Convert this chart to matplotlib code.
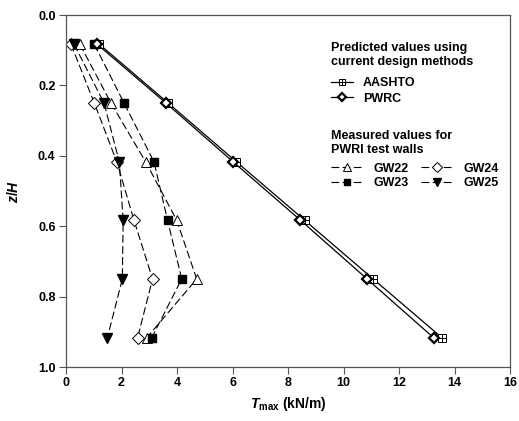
import matplotlib
matplotlib.use("Agg")
import matplotlib.pyplot as plt
from matplotlib.lines import Line2D

plt.rcParams['font.family'] = 'Liberation Sans'
plt.rcParams['font.weight'] = 'bold'
plt.rcParams['mathtext.fontset'] = 'custom'
plt.rcParams['mathtext.rm'] = 'Liberation Sans:bold'
plt.rcParams['mathtext.it'] = 'Liberation Sans:italic:bold'
plt.rcParams['mathtext.bf'] = 'Liberation Sans:bold'

z_h = [0.083, 0.25, 0.417, 0.583, 0.75, 0.917]
aashto = [1.2, 3.68, 6.14, 8.6, 11.07, 13.55]
pwrc = [1.12, 3.6, 6.02, 8.45, 10.85, 13.25]
gw22 = [0.50, 1.62, 2.87, 3.99, 4.71, 2.91]
gw23 = [1.02, 2.09, 3.17, 3.66, 4.17, 3.09]
gw24 = [0.18, 1.02, 1.83, 2.45, 3.12, 2.58]
gw25 = [0.29, 1.37, 1.92, 2.06, 2.03, 1.49]

fig = plt.figure(figsize=(5.19, 4.21), dpi=100)
ax = fig.add_axes([66 / 519, 1 - 367 / 421, 444 / 519, 352 / 421])

dash = (0, (7, 3))
ms = 6
# predicted
ax.plot(aashto, z_h, color='black', lw=0.9, zorder=3)
ax.plot(aashto, z_h, 's', color='black', mfc='white', mew=0.7, ms=ms, zorder=4)
ax.plot(aashto, z_h, '+', color='black', mew=0.7, ms=ms, zorder=5)
ax.plot(pwrc, z_h, 'D', ls='-', color='black', lw=0.9, mfc='white', mew=1.6,
        ms=ms - 1, zorder=6)

# measured
ax.plot(gw22, z_h, '^', ls=dash, color='black', lw=0.8, mfc='white', mew=0.7, ms=ms + 1)
ax.plot(gw23, z_h, 's', ls=dash, color='black', lw=0.8, ms=ms)
ax.plot(gw24, z_h, 'D', ls=dash, color='black', lw=0.8, mfc='white', mew=0.7, ms=ms)
ax.plot(gw25, z_h, 'v', ls=dash, color='black', lw=0.8, ms=ms + 1)

ax.set_xlim(0, 16)
ax.set_ylim(1.0, 0.0)
ax.set_xticks(range(0, 17, 2))
ax.set_yticks([0.0, 0.2, 0.4, 0.6, 0.8, 1.0])
ax.set_yticklabels(['0.0', '0.2', '0.4', '0.6', '0.8', '1.0'])
ax.tick_params(direction='out', length=5, width=0.8, labelsize=9, pad=2.5)
for sp in ax.spines.values():
    sp.set_color('#555555')
    sp.set_linewidth(0.9)
ax.tick_params(color='#555555')

ax.set_xlabel(r'$\mathit{T}_{\mathrm{max}}$ (kN/m)', fontsize=10, fontweight='bold', labelpad=4)
ax.set_ylabel(r'$\mathit{z/H}$', fontsize=10, labelpad=12)

h_aashto = (Line2D([], [], color='black', lw=0.9, marker='s', mfc='white', mew=0.7, ms=ms - 1),
            Line2D([], [], color='black', lw=0, marker='+', mew=0.7, ms=ms - 1))
h_pwrc = Line2D([], [], color='black', lw=0.9, marker='D', mfc='white', mew=1.6, ms=ms - 2)
leg1 = ax.legend([h_aashto, h_pwrc], ['AASHTO', 'PWRC'],
                 title='Predicted values using\ncurrent design methods',
                 loc='upper left', bbox_to_anchor=(0.572, 0.955), frameon=False,
                 alignment='left', fontsize=9, title_fontsize=9,
                 handlelength=1.75, handletextpad=0.8, labelspacing=0.3)
leg1.get_title().set_fontweight('bold')
leg1._legend_box.sep = 6.5  # extra gap below the title
ax.add_artist(leg1)

h22 = Line2D([], [], color='black', lw=0.8, ls=dash, marker='^', mfc='white', mew=0.7, ms=ms)
h23 = Line2D([], [], color='black', lw=0.8, ls=dash, marker='s', ms=ms - 1)
h24 = Line2D([], [], color='black', lw=0.8, ls=dash, marker='D', mfc='white', mew=0.7, ms=ms - 1)
h25 = Line2D([], [], color='black', lw=0.8, ls=dash, marker='v', ms=ms)
leg2 = ax.legend([h22, h23, h24, h25], ['GW22', 'GW23', 'GW24', 'GW25'], ncol=2,
                 title='Measured values for\nPWRI test walls',
                 loc='upper left', bbox_to_anchor=(0.572, 0.705), frameon=False,
                 alignment='left', fontsize=9, title_fontsize=9,
                 handlelength=2.5, handletextpad=0.9, labelspacing=0.2,
                 columnspacing=1.0)
leg2.get_title().set_fontweight('bold')
leg2._legend_box.sep = 5.0

fig.savefig('out.png', dpi=100)
